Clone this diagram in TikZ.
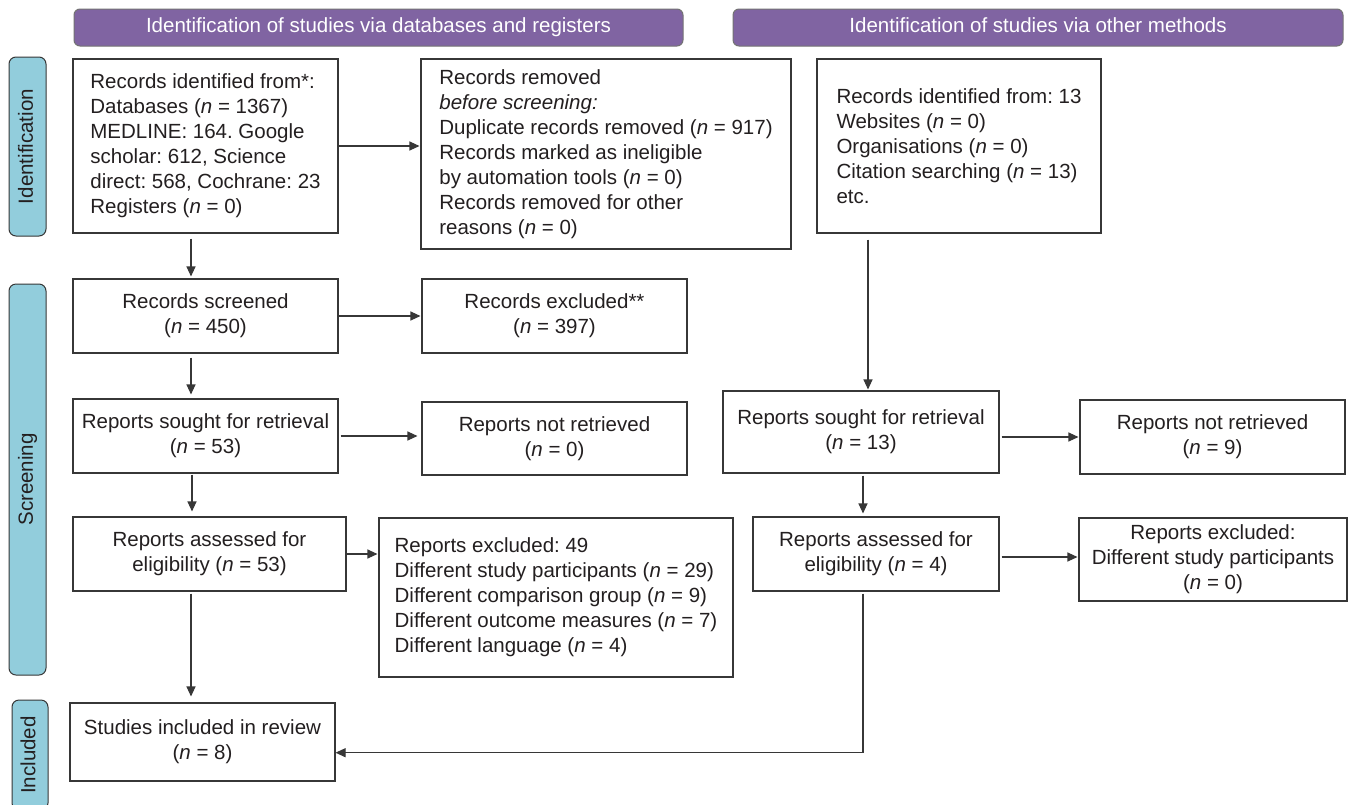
\documentclass[tikz,border=0pt]{standalone}
\usepackage{fontspec}
\setmainfont{Liberation Sans}
\usetikzlibrary{arrows.meta}
\definecolor{hdr}{RGB}{128,100,162}
\definecolor{sidec}{RGB}{146,205,220}
\definecolor{edge}{RGB}{55,55,55}
\definecolor{ink}{RGB}{35,31,32}
\newcommand{\nn}{\textit{n}}
\frenchspacing
\begin{document}
\frenchspacing
\begin{tikzpicture}[x=1pt,y=-1pt,
  txt/.style={font=\fontsize{20.5}{25}\selectfont\frenchspacing},
  box/.style={txt, draw=edge, line width=1.1pt, rectangle, inner sep=0pt, text=ink, align=center},
  lbox/.style={box, align=left},
  hdrbox/.style={txt, draw=edge!70, fill=hdr, line width=1pt, rounded corners=6pt, text=white, inner sep=0pt, text height=14.8pt, text depth=4.2pt},
  sidebox/.style={txt, draw=edge, fill=sidec, line width=1pt, rounded corners=7pt, text=ink, rotate=90, inner sep=0pt, text height=14.8pt, text depth=4.2pt},
  arr/.style={-{Triangle[length=10pt,width=9pt]}, line width=1.1pt, draw=edge}]
\useasboundingbox (0,0) rectangle (1349,804);
\clip (0,0) rectangle (1349,804);
\fill[white] (0,0) rectangle (1349,804);

% headers
\node[hdrbox, minimum width=609pt, minimum height=37pt] (h1) at (378.5,27.5) {Identification of studies via databases and registers};
\node[hdrbox, minimum width=610pt, minimum height=37pt] (h2) at (1038,27.5) {Identification of studies via other methods};

% side labels
\node[sidebox, minimum width=179pt, minimum height=37pt] (s1) at (27.5,146.5) {Identification};
\node[sidebox, minimum width=391pt, minimum height=37pt] (s2) at (27.5,479.5) {Screening};
\node[sidebox, minimum width=110pt, minimum height=36pt] (s3) at (30,755) {Included};

% left column
\node[lbox, minimum width=265pt, minimum height=174pt] (id1) at (205.5,146)
  {Records identified from*:\\Databases (\nn{} = 1367)\\MEDLINE: 164. Google\\scholar: 612, Science\\direct: 568, Cochrane: 23\\Registers (\nn{} = 0)};
\node[lbox, minimum width=370pt, minimum height=190pt] (rem) at (606,154)
  {Records removed\\\textit{before screening:}\\Duplicate records removed (\nn{} = 917)\\Records marked as ineligible\\by automation tools (\nn{} = 0)\\Records removed for other\\reasons (\nn{} = 0)};
\node[lbox, minimum width=284pt, minimum height=174pt] (oth) at (959,146)
  {Records identified from: 13\\Websites (\nn{} = 0)\\Organisations (\nn{} = 0)\\Citation searching (\nn{} = 13)\\etc.};

\node[box, minimum width=265pt, minimum height=74pt] (scr) at (205.5,316) {Records screened\\(\nn{} = 450)};
\node[box, minimum width=265pt, minimum height=74pt] (exc) at (554.5,316) {Records excluded**\\(\nn{} = 397)};
\node[box, minimum width=265pt, minimum height=74pt] (sought) at (205.5,436) {Reports sought for retrieval\\(\nn{} = 53)};
\node[box, minimum width=265pt, minimum height=73pt] (notret) at (554.5,438.5) {Reports not retrieved\\(\nn{} = 0)};
\node[box, minimum width=273pt, minimum height=74pt] (assessed) at (209.5,554) {Reports assessed for\\eligibility (\nn{} = 53)};
\node[lbox, minimum width=354pt, minimum height=159pt] (repexc) at (556,597.5)
  {Reports excluded: 49\\Different study participants (\nn{} = 29)\\Different comparison group (\nn{} = 9)\\Different outcome measures (\nn{} = 7)\\Different language (\nn{} = 4)};
\node[box, minimum width=265pt, minimum height=78pt] (incl) at (202.5,742) {Studies included in review\\(\nn{} = 8)};

% right column
\node[box, minimum width=276pt, minimum height=82pt] (sought2) at (861,432) {Reports sought for retrieval\\(\nn{} = 13)};
\node[box, minimum width=265pt, minimum height=74pt] (notret2) at (1212.5,437) {Reports not retrieved\\(\nn{} = 9)};
\node[box, minimum width=246pt, minimum height=74pt] (assessed2) at (876,554) {Reports assessed for\\eligibility (\nn{} = 4)};
\node[box, minimum width=268pt, minimum height=83pt] (repexc2) at (1213,559.5) {Reports excluded:\\Different study participants\\(\nn{} = 0)};

% connectors
\draw[arr, shorten >=1pt] (id1.east) -- (rem.west |- id1.east);
\draw[arr, shorten <=5pt, shorten >=2pt] (id1.south -| 191,0) -- (scr.north -| 191,0);
\draw[arr, shorten >=1pt] (scr.east) -- (exc.west |- scr.east);
\draw[arr, shorten <=4pt, shorten >=4pt] (scr.south -| 191,0) -- (sought.north -| 191,0);
\draw[arr, shorten <=2pt, shorten >=4pt] (sought.east) -- (notret.west |- sought.east);
\draw[arr, shorten <=1pt, shorten >=5pt] (sought.south -| 192,0) -- (assessed.north -| 192,0);
\draw[arr, shorten >=1pt] (assessed.east) -- (repexc.west |- assessed.east);
\draw[arr, shorten <=2pt, shorten >=6pt] (assessed.south -| 191,0) -- (incl.north -| 191,0);

\draw[arr, shorten <=6pt, shorten >=1pt] (oth.south -| 868,0) -- (sought2.north -| 868,0);
\draw[arr, shorten <=2pt, shorten >=1pt] (sought2.east |- notret2.west) -- (notret2.west);
\draw[arr, shorten <=2pt, shorten >=3pt] (sought2.south -| 863,0) -- (assessed2.north -| 863,0);
\draw[arr, shorten <=2pt, shorten >=1pt] ([yshift=-3pt]assessed2.east) -- ([yshift=-3pt]assessed2.east -| repexc2.west);
\draw[arr, shorten <=2pt] (assessed2.south -| 863,0) |- ([yshift=-10.7pt]incl.east);
\end{tikzpicture}
\end{document}
